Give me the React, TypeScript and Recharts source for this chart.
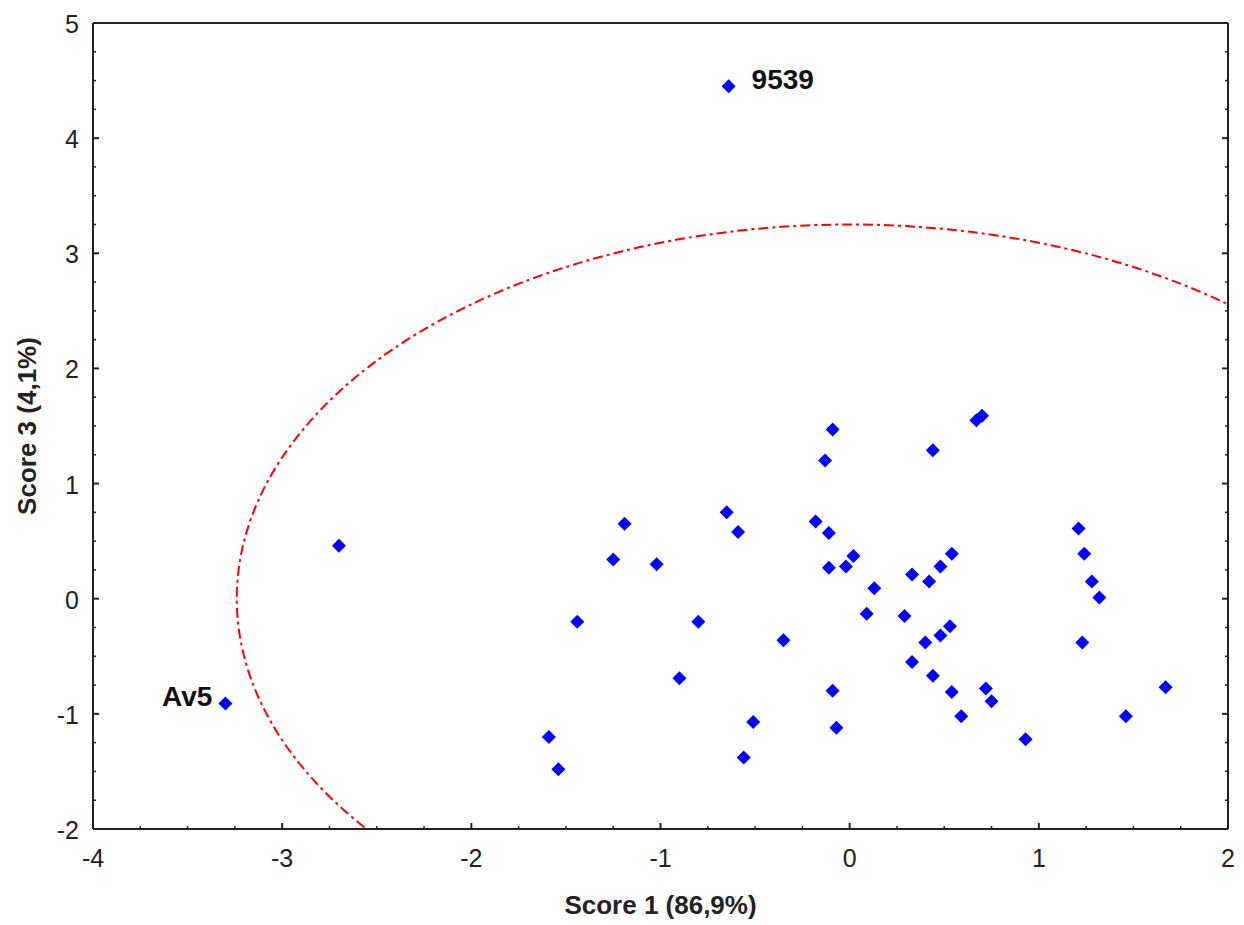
import React from "react";
import { ScatterChart, Scatter, XAxis, YAxis, ReferenceArea, Label } from "recharts";

// sample scores (first two are the labelled outliers)
const sampleNames = ["9539", "Av5"];
const score1 = [
  -0.64, -3.3, -2.7, -1.44, -1.25, -1.19, -1.02, -1.59, -1.54, -0.9, -0.8, -0.65, -0.59, -0.51, -0.56,
  -0.35, -0.18, -0.11, -0.11, -0.13, -0.09, -0.09, -0.07, -0.02, 0.02, 0.09, 0.13, 0.29, 0.33, 0.33,
  0.4, 0.42, 0.44, 0.44, 0.48, 0.48, 0.53, 0.54, 0.54, 0.59, 0.67, 0.7, 0.72, 0.75, 0.93, 1.21, 1.24,
  1.28, 1.32, 1.23, 1.46, 1.67,
];
const score3 = [
  4.45, -0.91, 0.46, -0.2, 0.34, 0.65, 0.3, -1.2, -1.48, -0.69, -0.2, 0.75, 0.58, -1.07, -1.38,
  -0.36, 0.67, 0.57, 0.27, 1.2, 1.47, -0.8, -1.12, 0.28, 0.37, -0.13, 0.09, -0.15, 0.21, -0.55,
  -0.38, 0.15, 1.29, -0.67, 0.28, -0.32, -0.24, 0.39, -0.81, -1.02, 1.55, 1.59, -0.78, -0.89, -1.22,
  0.61, 0.39, 0.15, 0.01, -0.38, -1.02, -0.77,
];

const xMajorTicks = [-4, -3, -2, -1, 0, 1, 2];
const yMajorTicks = [-2, -1, 0, 1, 2, 3, 4, 5];

// confidence ellipse
const ellipseCenter = { x: 0, y: 0 };
const ellipseRadius = { x: 3.24, y: 3.25 };

const labelSide: Record<string, "left" | "right"> = { "9539": "right", Av5: "left" };

const points = score1.map((x, i) => ({ x, y: score3[i], name: sampleNames[i] || "" }));

const withMinor = (major: number[]) =>
  major.flatMap((v, i) => (i === major.length - 1 ? [v] : [v, v + 0.25, v + 0.5, v + 0.75]));
const xTicks = withMinor(xMajorTicks);
const yTicks = withMinor(yMajorTicks);

const FONT = '"Liberation Sans", Arial, sans-serif';
const INK = "#222";

const tickLen = (v: number) => (Number.isInteger(v) ? 6 : 3);
const tickW = (v: number) => (Number.isInteger(v) ? 2 : 1.5);

function BottomTick({ x, y, payload }: any) {
  const v = payload.value;
  return (
    <g>
      <line x1={x} x2={x} y1={y} y2={y - tickLen(v)} stroke={INK} strokeWidth={tickW(v)} />
      {Number.isInteger(v) && (
        <text x={x} y={y + 29} textAnchor="middle" dominantBaseline="central" fontSize={25} fontFamily={FONT} fill={INK}>
          {v}
        </text>
      )}
    </g>
  );
}

function TopTick({ x, y, payload }: any) {
  const v = payload.value;
  return <line x1={x} x2={x} y1={y} y2={y + tickLen(v)} stroke={INK} strokeWidth={tickW(v)} />;
}

function LeftTick({ x, y, payload }: any) {
  const v = payload.value;
  return (
    <g>
      <line x1={x} x2={x + tickLen(v)} y1={y} y2={y} stroke={INK} strokeWidth={tickW(v)} />
      {Number.isInteger(v) && (
        <text x={x - 14} y={y + 1} textAnchor="end" dominantBaseline="central" fontSize={25} fontFamily={FONT} fill={INK}>
          {v}
        </text>
      )}
    </g>
  );
}

function RightTick({ x, y, payload }: any) {
  const v = payload.value;
  return <line x1={x} x2={x - tickLen(v)} y1={y} y2={y} stroke={INK} strokeWidth={tickW(v)} />;
}

function Diamond({ cx, cy, payload }: any) {
  const s = 7;
  const side = labelSide[payload.name];
  return (
    <g>
      <polygon points={`${cx},${cy - s} ${cx + s},${cy} ${cx},${cy + s} ${cx - s},${cy}`} fill="#0000ff" />
      {payload.name && (
        <text
          x={side === "left" ? cx - 13 : cx + 23}
          y={cy - 7}
          textAnchor={side === "left" ? "end" : "start"}
          dominantBaseline="central"
          fontSize={28}
          fontWeight="bold"
          fontFamily={FONT}
          fill="#111"
        >
          {payload.name}
        </text>
      )}
    </g>
  );
}

function EllipseShape({ x, y, width, height, clipPath }: any) {
  return (
    <ellipse
      cx={x + width / 2}
      cy={y + height / 2}
      rx={width / 2}
      ry={height / 2}
      clipPath={clipPath}
      fill="none"
      stroke="#ff0000"
      strokeWidth={2}
      strokeDasharray="10 4 3 4"
    />
  );
}

export default function App() {
  return (
    <div style={{ position: "absolute", left: 0, top: 0, background: "#fff" }}>
      <ScatterChart width={1244} height={925} margin={{ top: 0, right: 0, bottom: 0, left: 0 }}>
        <XAxis
          xAxisId="b"
          dataKey="x"
          type="number"
          domain={[-4, 2]}
          allowDataOverflow
          ticks={xTicks}
          interval={0}
          height={96}
          tickSize={0}
          tickMargin={0}
          tickLine={false}
          axisLine={{ stroke: INK, strokeWidth: 2 }}
          tick={<BottomTick />}
        >
          <Label
            content={({ viewBox }: any) => (
              <text
                x={viewBox.x + viewBox.width / 2}
                y={viewBox.y + 76}
                textAnchor="middle"
                dominantBaseline="central"
                fontSize={26}
                fontWeight="bold"
                fontFamily={FONT}
                fill={INK}
              >
                Score 1 (86,9%)
              </text>
            )}
          />
        </XAxis>
        <XAxis
          xAxisId="t"
          orientation="top"
          type="number"
          domain={[-4, 2]}
          allowDataOverflow
          ticks={xTicks}
          interval={0}
          height={23}
          tickSize={0}
          tickMargin={0}
          tickLine={false}
          axisLine={{ stroke: INK, strokeWidth: 2 }}
          tick={<TopTick />}
        />
        <YAxis
          yAxisId="l"
          dataKey="y"
          type="number"
          domain={[-2, 5]}
          allowDataOverflow
          ticks={yTicks}
          interval={0}
          width={93}
          tickSize={0}
          tickMargin={0}
          tickLine={false}
          axisLine={{ stroke: INK, strokeWidth: 2 }}
          tick={<LeftTick />}
        >
          <Label
            content={({ viewBox }: any) => {
              const cx = viewBox.x + 27;
              const cy = viewBox.y + viewBox.height / 2;
              return (
                <text
                  x={cx}
                  y={cy}
                  transform={`rotate(-90 ${cx} ${cy})`}
                  textAnchor="middle"
                  dominantBaseline="central"
                  fontSize={26}
                  fontWeight="bold"
                  fontFamily={FONT}
                  fill={INK}
                >
                  Score 3 (4,1%)
                </text>
              );
            }}
          />
        </YAxis>
        <YAxis
          yAxisId="r"
          orientation="right"
          type="number"
          domain={[-2, 5]}
          allowDataOverflow
          ticks={yTicks}
          interval={0}
          width={16}
          tickSize={0}
          tickMargin={0}
          tickLine={false}
          axisLine={{ stroke: INK, strokeWidth: 2 }}
          tick={<RightTick />}
        />
        <ReferenceArea
          xAxisId="b"
          yAxisId="l"
          x1={ellipseCenter.x - ellipseRadius.x}
          x2={ellipseCenter.x + ellipseRadius.x}
          y1={ellipseCenter.y - ellipseRadius.y}
          y2={ellipseCenter.y + ellipseRadius.y}
          ifOverflow="hidden"
          shape={<EllipseShape />}
        />
        <Scatter xAxisId="b" yAxisId="l" data={points} shape={<Diamond />} isAnimationActive={false} />
      </ScatterChart>
    </div>
  );
}
